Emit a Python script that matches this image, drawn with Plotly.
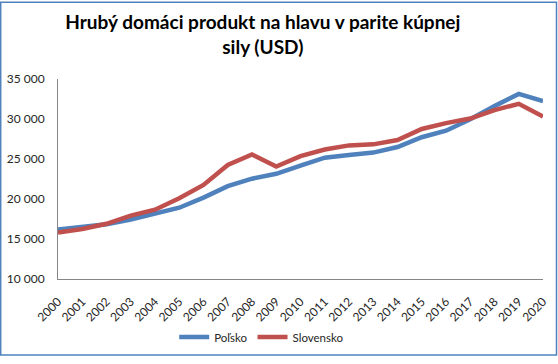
import plotly.graph_objects as go

years = [str(y) for y in range(2000, 2021)]
polsko = [16200, 16500, 16830, 17440, 18210, 18910, 20170, 21600, 22540, 23150,
          24180, 25160, 25490, 25800, 26500, 27720, 28540, 29980, 31610, 33130, 32230]
slovensko = [15800, 16250, 16900, 17930, 18660, 20090, 21750, 24260, 25560, 24060,
             25360, 26180, 26700, 26830, 27370, 28750, 29490, 30060, 31120, 31900, 30300]
y_ticks = [10000, 15000, 20000, 25000, 30000, 35000]
y_labels = ["10 000", "15 000", "20 000", "25 000", "30 000", "35 000"]

fig = go.Figure()
fig.add_trace(go.Scatter(x=years, y=polsko, name="Poľsko", mode="lines",
                         line=dict(color="#4F81BD", width=4.5)))
fig.add_trace(go.Scatter(x=years, y=slovensko, name="Slovensko", mode="lines",
                         line=dict(color="#C0504D", width=4.5)))

fig.update_layout(
    width=558, height=364,
    margin=dict(l=58, r=15, t=79, b=81),
    paper_bgcolor="white", plot_bgcolor="white",
    font=dict(family="Lato, Liberation Sans, sans-serif", size=12, color="#262626"),
    title=dict(text="<b>Hrubý domáci produkt na hlavu v parite kúpnej<br>sily (USD)</b>",
               x=0.471, xanchor="center", y=0.92, yanchor="top",
               font=dict(size=19, color="#000000")),
    showlegend=True,
    legend=dict(orientation="h", x=0.42, xanchor="center", y=-0.29, yanchor="middle",
                font=dict(size=11.5), itemwidth=30),
    xaxis=dict(type="category", showgrid=False, showline=True, linecolor="#868686",
               linewidth=1, tickangle=-45, ticks="outside", ticklen=10,
               tickcolor="rgba(0,0,0,0)", zeroline=False, automargin=False),
    yaxis=dict(range=[10000, 35000], tickvals=y_ticks, ticktext=y_labels,
               showgrid=False, showline=True, linecolor="#868686", linewidth=1,
               ticks="", zeroline=False, ticklabelstandoff=10, automargin=False),
    shapes=[dict(type="rect", xref="paper", yref="paper",
                 x0=-57.3/485, x1=1 + 13.5/485, y0=-77.5/204, y1=1 + 78.2/204,
                 line=dict(color="#4F81BD", width=1.5), fillcolor="rgba(0,0,0,0)")],
)

js = ("document.documentElement.style.overflow='hidden';"
      "document.body.style.margin='0';document.body.style.overflow='hidden';"
      "window.scrollTo(0,0);")
fig.write_html("out.html", post_script=js, config={"displayModeBar": False})
